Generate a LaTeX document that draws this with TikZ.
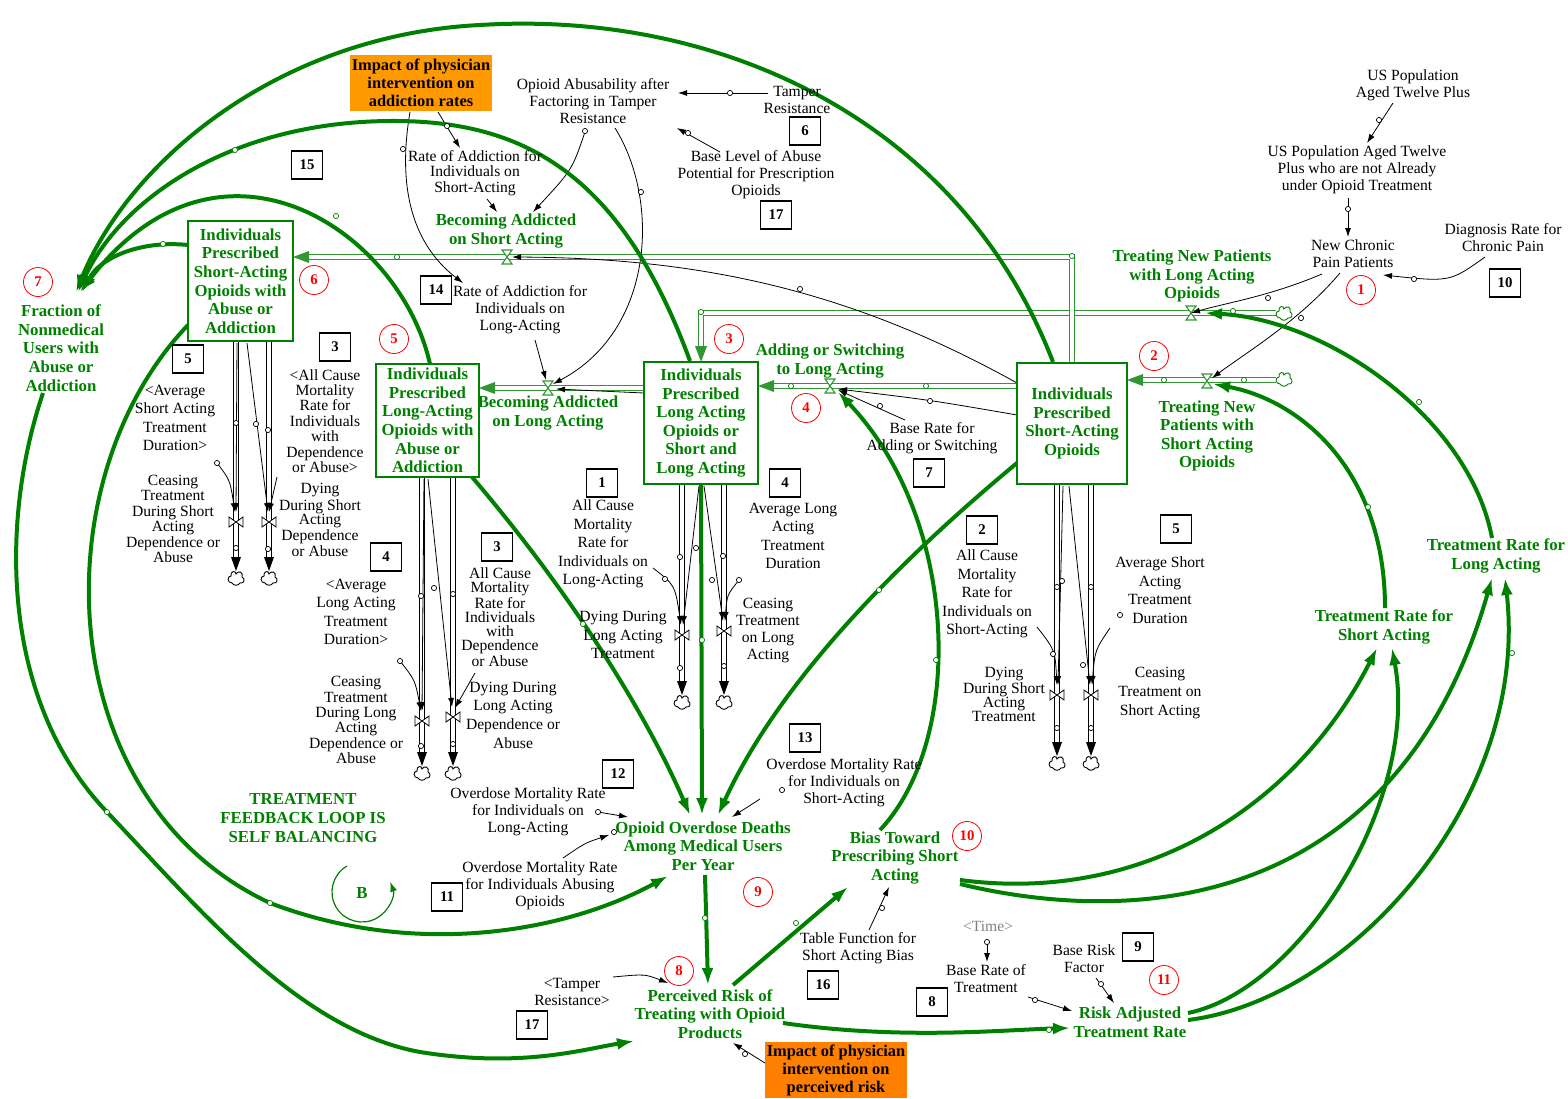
\documentclass[tikz,border=0pt]{standalone}
\usepackage{fontspec}
\setmainfont{Liberation Serif}
\usetikzlibrary{arrows.meta}
\definecolor{dg}{RGB}{0,128,0}
\definecolor{pg}{RGB}{50,150,50}
\definecolor{orgA}{RGB}{255,153,0}
\definecolor{orgB}{RGB}{255,128,0}
\definecolor{rc}{RGB}{255,0,0}
\definecolor{tg}{RGB}{128,128,128}
\newcommand\fN{\fontsize{7.8}{8.5}\selectfont}
\newcommand\fW{\fontsize{7.8}{9.3}\selectfont}
\newcommand\fM{\fontsize{7.8}{7.7}\selectfont}
\newcommand\fT{\fontsize{7.8}{7}\selectfont}
\newcommand\fG{\bfseries\fontsize{8.4}{9.3}\selectfont}
\newcommand\fO{\bfseries\fontsize{8.2}{9}\selectfont}
\newcommand\fB{\bfseries\fontsize{7.4}{8}\selectfont}
\pgfdeclarelayer{bg}
\pgfsetlayers{bg,main}
\tikzset{
  stock/.style={draw=dg, line width=0.6pt, fill=white, align=center, font=\fG, text=dg, inner sep=0.5pt},
  gtxt/.style={text=dg, font=\fG, align=center, inner sep=0pt},
  btxt/.style={font=\fN, align=center, inner sep=0pt},
  numbox/.style={draw, line width=0.6pt, minimum width=15.5pt, minimum height=14pt, font=\fB, inner sep=0pt},
  rcirc/.style={circle, draw=rc, line width=0.4pt, minimum size=14.5pt, inner sep=0pt, text=rc, font=\fB},
  orgbox/.style={align=center, font=\fO, minimum width=71pt, minimum height=28pt, inner sep=0pt},
  glink/.style={draw=dg, line width=2pt, -{Latex[length=8.5pt,width=6pt]}},
  blink/.style={draw=black, line width=0.4pt, -{Latex[length=4.5pt,width=3pt]}},
  gpipe/.style={draw=pg, line width=0.5pt, double=white, double distance=1.6pt},
  bpipe/.style={draw=black, line width=0.45pt, double=white, double distance=2pt},
  tc/.style={draw=black, fill=white, line width=0.35pt},
  gtc/.style={draw=dg, fill=white, line width=0.35pt},
  hvalve/.pic={\draw[pg, line width=0.55pt, fill=white] (-5,-7)--(5,-7)--(-5,7)--(5,7)--cycle;},
  vvalve/.pic={\draw[black, line width=0.4pt, fill=white] (-7,-5)--(-7,5)--(7,-5)--(7,5)--cycle;},
  vcloud/.pic={\draw[line width=0.45pt, fill=white] (-4,5) .. controls (-9,5) and (-9,-2) .. (-5,-2) .. controls (-6,-7) and (0,-8) .. (0,-4) .. controls (2,-8) and (8,-6) .. (6,-1) .. controls (9,0) and (9,6) .. (4,5) .. controls (2,8) and (-2,8) .. (-4,5) -- cycle;},
}
\begin{document}
\begin{tikzpicture}[x=0.5pt,y=-0.5pt]
\useasboundingbox (0,0) rectangle (1568,1098);

% ---------- valve coordinates
\coordinate (vTL) at (1191,313);
\coordinate (vTS) at (1207,381);
\coordinate (vAdd) at (830,386);
\coordinate (vBL) at (548,388);
\coordinate (vBS) at (507,257);
\coordinate (vCeSAab) at (236,522);
\coordinate (vDySAab) at (269,522);
\coordinate (vCeLAab) at (422,721);
\coordinate (vDyLAab) at (453,717);
\coordinate (vDyLA) at (682,635);
\coordinate (vCeLA) at (724,631);
\coordinate (vDySA) at (1057,695);
\coordinate (vCeSA) at (1091,695);

% ---------- stocks
\node[stock, minimum width=52.5pt, minimum height=60pt] (SAab) at (240.5,281) {Individuals\\Prescribed\\Short-Acting\\Opioids with\\Abuse or\\Addiction};
\node[stock, minimum width=51.5pt, minimum height=56.5pt] (LAab) at (427.5,420.5) {Individuals\\Prescribed\\Long-Acting\\Opioids with\\Abuse or\\Addiction};
\node[stock, minimum width=57pt, minimum height=61pt] (LA) at (701,423) {Individuals\\Prescribed\\Long Acting\\Opioids or\\Short and\\Long Acting};
\node[stock, minimum width=55pt, minimum height=60.5pt] (SA) at (1072,423.5) {Individuals\\Prescribed\\Short-Acting\\Opioids};

% ---------- green texts
\node[gtxt] (Frac) at (61,348) {Fraction of\\Nonmedical\\Users with\\Abuse or\\Addiction};
\node[gtxt] (BecSA) at (506,231) {Becoming Addicted\\on Short Acting};
\node[gtxt] (BecLA) at (548,413) {Becoming Addicted\\on Long Acting};
\node[gtxt] (AddSw) at (830,361) {Adding or Switching\\to Long Acting};
\node[gtxt] (TrNL) at (1192,276) {Treating New Patients\\with Long Acting\\Opioids};
\node[gtxt] (TrNS) at (1207,436) {Treating New\\Patients with\\Short Acting\\Opioids};
\node[gtxt] (OOD) at (703,846) {Opioid Overdose Deaths\\Among Medical Users\\Per Year};
\node[gtxt] (TFL) at (303,818) {TREATMENT\\FEEDBACK LOOP IS\\SELF BALANCING};
\node[gtxt] (Bias) at (895,858) {Bias Toward\\Prescribing Short\\Acting};
\node[gtxt] (Perc) at (710,1014) {Perceived Risk of\\Treating with Opioid\\Products};
\node[gtxt] (RiskAdj) at (1130,1022) {Risk Adjusted\\Treatment Rate};
\node[gtxt] (TRS) at (1384,627) {Treatment Rate for\\Short Acting};
\node[gtxt] (TRL) at (1496,556) {Treatment Rate for\\Long Acting};
\node[gtxt] (Bsym) at (362,893) {B};

% ---------- orange boxes
\node[orgbox, fill=orgA] (ImpA) at (421,83) {Impact of physician\\intervention on\\addiction rates};
\node[orgbox, fill=orgB] (ImpB) at (836,1070) {Impact of physician\\intervention on\\perceived risk};

% ---------- black texts
\node[btxt] (OpAb) at (593,101) {Opioid Abusability after\\Factoring in Tamper\\Resistance};
\node[btxt] (Tamper) at (797,100) {Tamper\\Resistance};
\node[btxt] (BaseLev) at (756,175) {Base Level of Abuse\\Potential for Prescription\\Opioids};
\node[btxt, font=\fM] (RASA) at (475,173) {Rate of Addiction for\\Individuals on\\Short-Acting};
\node[btxt] (RALA) at (520,310) {Rate of Addiction for\\Individuals on\\Long-Acting};
\node[btxt] (USP) at (1413,85) {US Population\\Aged Twelve Plus};
\node[btxt] (USPn) at (1357,170) {US Population Aged Twelve\\Plus who are not Already\\under Opioid Treatment};
\node[btxt] (NCP) at (1353,254) {New Chronic\\Pain Patients};
\node[btxt] (Diag) at (1503,238) {Diagnosis Rate for\\Chronic Pain};
\node[btxt, font=\fW] (AvSA1) at (175,418) {<Average\\Short Acting\\Treatment\\Duration>};
\node[btxt, font=\fM] (ACM1) at (325,421) {<All Cause\\Mortality\\Rate for\\Individuals\\with\\Dependence\\or Abuse>};
\node[btxt, font=\fM] (CeSAab) at (173,519) {Ceasing\\Treatment\\During Short\\Acting\\Dependence or\\Abuse};
\node[btxt, font=\fT] (DySAab) at (320,520) {Dying\\During Short\\Acting\\Dependence\\or Abuse};
\node[btxt, font=\fW] (AvLA1) at (356,612) {<Average\\Long Acting\\Treatment\\Duration>};
\node[btxt, font=\fM] (CeLAab) at (356,720) {Ceasing\\Treatment\\During Long\\Acting\\Dependence or\\Abuse};
\node[btxt, font=\fW] (DyLAab) at (513,715) {Dying During\\Long Acting\\Dependence or\\Abuse};
\node[btxt, font=\fT] (ACM2) at (500,617) {All Cause\\Mortality\\Rate for\\Individuals\\with\\Dependence\\or Abuse};
\node[btxt, font=\fW] (ACMLA) at (603,544) {All Cause\\Mortality\\Rate for\\Individuals on\\Long-Acting};
\node[btxt, font=\fW] (DyLA) at (623,635) {Dying During\\Long Acting\\Treatment};
\node[btxt] (CeLA) at (768,631) {Ceasing\\Treatment\\on Long\\Acting};
\node[btxt, font=\fW] (AvLA) at (793,536) {Average Long\\Acting\\Treatment\\Duration};
\node[btxt] (BRAS) at (932,438) {Base Rate for\\Adding or Switching};
\node[btxt, font=\fW] (ACMSA) at (987,594) {All Cause\\Mortality\\Rate for\\Individuals on\\Short-Acting};
\node[btxt, font=\fT] (DySA) at (1004,694) {Dying\\During Short\\Acting\\Treatment};
\node[btxt, font=\fW] (AvSA) at (1160,590) {Average Short\\Acting\\Treatment\\Duration};
\node[btxt, font=\fW] (CeSA) at (1160,693) {Ceasing\\Treatment on\\Short Acting};
\node[btxt] (OMRSA) at (844,783) {Overdose Mortality Rate\\for Individuals on\\Short-Acting};
\node[btxt] (OMRLA) at (528,812) {Overdose Mortality Rate\\for Individuals on\\Long-Acting};
\node[btxt] (OMRAb) at (540,886) {Overdose Mortality Rate\\for Individuals Abusing\\Opioids};
\node[btxt] (Table) at (858,948) {Table Function for\\Short Acting Bias};
\node[btxt, text=tg] (Time) at (988,926) {<Time>};
\node[btxt] (BRT) at (986,979) {Base Rate of\\Treatment};
\node[btxt] (BRF) at (1084,959) {Base Risk\\Factor};
\node[btxt] (TampR2) at (572,992) {<Tamper\\Resistance>};

% ---------- numbered boxes
\node[numbox] (n15) at (307,165) {15};
\node[numbox] (n6) at (805,131) {6};
\node[numbox] (n17a) at (776,215) {17};
\node[numbox] (n14) at (436,290) {14};
\node[numbox] (n10) at (1505,283) {10};
\node[numbox] (n5a) at (188,359) {5};
\node[numbox] (n3a) at (335,347) {3};
\node[numbox] (n4a) at (386,557) {4};
\node[numbox] (n3b) at (497,547) {3};
\node[numbox] (n1) at (602,483) {1};
\node[numbox] (n4b) at (785,483) {4};
\node[numbox] (n7) at (929,473) {7};
\node[numbox] (n2) at (982,530) {2};
\node[numbox] (n5b) at (1176,529) {5};
\node[numbox] (n13) at (805,738) {13};
\node[numbox] (n12) at (618,774) {12};
\node[numbox] (n11) at (447,897) {11};
\node[numbox] (n16) at (823,985) {16};
\node[numbox] (n8) at (932,1002) {8};
\node[numbox] (n9) at (1138,947) {9};
\node[numbox] (n17b) at (532,1025) {17};

% ---------- red circles
\node[rcirc] (c1) at (1361,290) {1};
\node[rcirc] (c2) at (1154,356) {2};
\node[rcirc] (c3) at (729,339) {3};
\node[rcirc] (c4) at (806,408) {4};
\node[rcirc] (c5) at (394,339) {5};
\node[rcirc] (c6) at (314,280) {6};
\node[rcirc] (c7) at (38,282) {7};
\node[rcirc] (c8) at (679,971) {8};
\node[rcirc] (c9) at (758,892) {9};
\node[rcirc] (c10) at (967,836) {10};
\node[rcirc] (c11) at (1164,980) {11};

\begin{pgfonlayer}{bg}
% ---------- green pipes
\draw[gpipe] (1276,313) -- (701,313) -- (701,348);
\draw[gpipe] (1276,380) -- (1141,380);
\draw[gpipe] (1017,386) -- (772,386);
\draw[gpipe] (644,388) -- (493,388);
\draw[gpipe] (1072,363) -- (1072,257) -- (307,257);
% ---------- black pipes
\foreach \x/\ya/\yt in {236/341/571, 269/341/571, 422/477/766, 453/477/766, 682/484/695, 724/484/695, 1057/484/756, 1091/484/756}
  {\draw[bpipe] (\x,\ya) -- (\x,\yt-12);}

% ---------- thin black links
\draw[blink] (1393,103) -- (1367,143);
\draw[blink] (1348,198) -- (1348,237);
\draw[blink] (1485,257) .. controls (1450,282) .. (1383,275);
\draw[blink] (1322,274) .. controls (1270,296) and (1230,302) .. (vTL);
\draw[blink] (1340,273) .. controls (1300,320) and (1250,350) .. (1212,378);
\draw[blink] (768,93) -- (678,93);
\draw[blink] (720,152) -- (677,128);
\draw[blink] (585,132) .. controls (572,170) .. (533,212);
\draw[blink] (615,128) .. controls (660,200) and (655,330) .. (553,384);
\draw[blink] (438,112) -- (460,148);
\draw[blink] (410,112) .. controls (395,200) and (420,250) .. (463,283);
\draw[blink] (487,199) -- (497,212);
\draw[blink] (535,340) -- (546,380);
\draw[blink] (1017,383) .. controls (850,290) and (700,258) .. (512,257);
\draw[blink] (644,393) -- (556,389);
\draw[blink] (1017,415) .. controls (930,400) .. (838,389);
\draw[blink] (905,420) -- (838,390);
\draw[blink] (760,799) -- (732,817);
\draw[blink] (598,812) -- (628,817);
\draw[blink] (563,858) .. controls (585,843) .. (609,835);
\draw[blink] (869,930) -- (889,887);
\draw[blink] (987,942) -- (987,962);
\draw[blink] (1028,997) -- (1072,1011);
\draw[blink] (1096,978) -- (1114,1003);
\draw[blink] (613,977) .. controls (645,974) .. (668,983);
\draw[blink] (765,1063) -- (733,1043);
% outflow info links
\draw[blink] (237,343) -- (236,512);
\draw[blink] (247,343) -- (268,512);
\draw[blink] (217,463) .. controls (230,480) .. (235,512);
\draw[blink] (277,477) -- (269,512);
\draw[blink] (424,479) -- (422,711);
\draw[blink] (428,479) -- (452,707);
\draw[blink] (400,661) .. controls (415,680) .. (421,711);
\draw[blink] (475,673) -- (455,708);
\draw[blink] (699,486) -- (683,625);
\draw[blink] (704,486) -- (723,621);
\draw[blink] (653,568) .. controls (675,585) .. (681,625);
\draw[blink] (739,580) .. controls (727,595) .. (725,621);
\draw[blink] (1063,486) -- (1058,685);
\draw[blink] (1069,486) -- (1090,685);
\draw[blink] (1037,627) .. controls (1055,650) .. (1057,685);
\draw[blink] (1110,628) .. controls (1095,650) .. (1092,685);

% ---------- green causal links
\draw[glink] (188,245) .. controls (140,240) and (100,258) .. (82,292);
\draw[glink] (430,364) .. controls (400,230) and (220,110) .. (80,292);
\draw[glink] (690,361) .. controls (620,170) and (520,120) .. (390,121) .. controls (230,122) and (120,200) .. (78,292);
\draw[glink] (1053,362) .. controls (960,120) and (720,10) .. (480,25) .. controls (280,35) and (130,160) .. (76,292);
\draw[glink] (188,325) .. controls (40,480) and (50,800) .. (270,903) .. controls (420,960) and (570,930) .. (668,876);
\draw[glink] (43,393) .. controls (0,520) and (0,700) .. (107,812) .. controls (200,910) and (300,1030) .. (420,1052) .. controls (520,1068) and (580,1050) .. (634,1041);
\draw[glink] (472,477) .. controls (560,580) and (640,700) .. (690,815);
\draw[glink] (701,484) -- (702,815);
\draw[glink] (1017,463) .. controls (900,560) and (780,680) .. (718,815);
\draw[glink] (705,875) -- (708,985);
\draw[glink] (733,985) -- (848,887);
\draw[glink] (880,830) .. controls (965,740) and (960,520) .. (838,392);
\draw[glink] (960,880) .. controls (1150,905) and (1300,800) .. (1377,648);
\draw[glink] (960,884) .. controls (1150,930) and (1400,900) .. (1492,578);
\draw[glink] (1188,1013) .. controls (1300,990) and (1420,800) .. (1392,648);
\draw[glink] (1188,1020) .. controls (1350,1000) and (1530,800) .. (1505,578);
\draw[glink] (783,1023) .. controls (900,1040) and (1000,1030) .. (1070,1028);
\draw[glink] (1385,608) .. controls (1385,470) and (1300,400) .. (1213,384);
\draw[glink] (1492,538) .. controls (1470,420) and (1330,320) .. (1205,313);
% loop symbol
\draw[dg, line width=0.6pt, -{Latex[length=5pt,width=3.5pt]}] (347,866) arc[start angle=120, end angle=380, radius=15pt];
\end{pgfonlayer}

% ---------- pipe arrowheads, valves, clouds
\fill[pg] (701,362) -- ++(-6,-16) -- ++(12,0) -- cycle;
\fill[pg] (1127,380) -- ++(16,-6) -- ++(0,12) -- cycle;
\fill[pg] (758,386) -- ++(16,-6) -- ++(0,12) -- cycle;
\fill[pg] (479,388) -- ++(16,-6) -- ++(0,12) -- cycle;
\fill[pg] (293,257) -- ++(16,-6) -- ++(0,12) -- cycle;
\foreach \x/\yt in {236/571, 269/571, 422/766, 453/766, 682/695, 724/695, 1057/756, 1091/756}
  {\fill (\x,\yt) -- ++(-5,-14) -- ++(10,0) -- cycle;
   \pic at (\x,\yt+7) {vcloud};}
\pic[dg] at (1284,313) {vcloud};
\pic[dg] at (1284,379) {vcloud};
\foreach \v in {vTL,vTS,vAdd,vBL,vBS} {\pic at (\v) {hvalve};}
\foreach \v in {vCeSAab,vDySAab,vCeLAab,vDyLAab,vDyLA,vCeLA,vDySA,vCeSA} {\pic at (\v) {vvalve};}

% ---------- tail circles
\foreach \p in {(1379,120),(1348,209),(1414,279),(1268,298),(1301,318),(730,93),(688,133),(585,131),(641,192),(447,126),(403,149),(800,289),(930,401),(880,406),(782,790),(598,812),(614,832),(882,908),(987,942),(1035,1000),(1101,984),(745,1054),
  (256,424),(217,463),(434,588),(400,661),(696,548),(712,580),(665,579),(739,580),(1062,581),(1083,665),(1053,654),(1120,615),
  (236,423),(268,430),(236,548),(268,549),(421,596),(453,594),(421,746),(453,744),(680,557),(723,556),(680,668),(724,666),(1057,587),(1091,587),(1057,728),(1091,728)}
  {\draw[tc] \p circle (1.3pt);}
\foreach \p in {(397,257),(1072,256),(701,312),(1233,311),(1244,380),(1164,380),(926,386),(791,386),
  (163,244),(235,150),(336,216),(270,903),(107,812),(583,624),(702,640),(879,590),(705,918),(796,923),(936,660),(1049,1030),(1368,507),(1419,402),(1512,653)}
  {\draw[gtc] \p circle (1.3pt);}
\end{tikzpicture}
\end{document}
